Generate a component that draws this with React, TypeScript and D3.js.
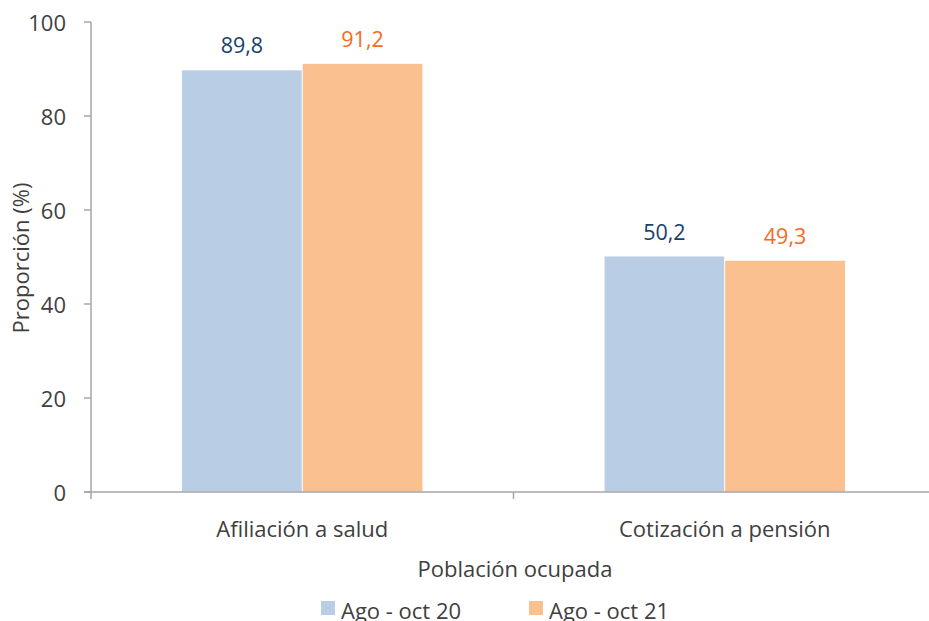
import React from "react";
import * as d3 from "d3";

const categories = ["Afiliación a salud", "Cotización a pensión"];
const seriesNames = ["Ago - oct 20", "Ago - oct 21"];
const values2020 = [89.8, 50.2];
const values2021 = [91.2, 49.3];
const yTicks = [0, 20, 40, 60, 80, 100];
const fills = ["#B9CDE5", "#FAC090"];
const labelColors = ["#17406D", "#F36C1E"];

const W = 929;
const H = 621;
const left = 91;
const top = 22;
const bottom = 492;
const right = 936;
const font = "'Open Sans', 'Noto Sans', sans-serif";
const textColor = "#404040";
const axisColor = "#A6A6A6";
const fs = 22;

export default function App() {
  const x = d3.scaleBand<string>().domain(categories).range([left, right]).paddingInner(0).paddingOuter(0);
  const y = d3.scaleLinear().domain([0, 100]).range([bottom, top]);
  const groupW = x.bandwidth() * 0.571;
  const x1 = d3.scaleBand<number>().domain([0, 1]).range([0, groupW]).padding(0);
  const series = [values2020, values2021];

  return (
    <svg width={W} height={H} style={{ position: "fixed", left: 0, top: 0, background: "#fff" }} fontFamily={font}>
      {categories.map((c, i) => {
        const gx = x(c)! + (x.bandwidth() - groupW) / 2;
        return (
          <g key={c}>
            {series.map((s, j) => (
              <g key={j}>
                <rect
                  x={gx + x1(j)!}
                  y={y(s[i])}
                  width={x1.bandwidth()}
                  height={y(0) - y(s[i])}
                  fill={fills[j]}
                  stroke="#fff"
                  strokeWidth={0.8}
                />
                <text
                  x={gx + x1(j)! + x1.bandwidth() / 2}
                  y={y(s[i]) - 25}
                  textAnchor="middle"
                  dominantBaseline="central"
                  fontSize={21.5}
                  fill={labelColors[j]}
                >
                  {s[i].toFixed(1).replace(".", ",")}
                </text>
              </g>
            ))}
          </g>
        );
      })}
      <line x1={left} x2={left} y1={top} y2={bottom} stroke={axisColor} strokeWidth={1.5} />
      {yTicks.map((t) => (
        <g key={t}>
          <line x1={left - 7} x2={left} y1={y(t)} y2={y(t)} stroke={axisColor} strokeWidth={1.5} />
          <text x={66} y={y(t)} textAnchor="end" dominantBaseline="central" fontSize={fs} fill={textColor}>
            {t}
          </text>
        </g>
      ))}
      <line x1={left - 7} x2={W} y1={bottom} y2={bottom} stroke={axisColor} strokeWidth={1.5} />
      {[...categories.map((c) => x(c)!), right].map((p, i) => (
        <line key={i} x1={p} x2={p} y1={bottom} y2={bottom + 7} stroke={axisColor} strokeWidth={1.5} />
      ))}
      {categories.map((c) => (
        <text
          key={c}
          x={x(c)! + x.bandwidth() / 2}
          y={528}
          textAnchor="middle"
          dominantBaseline="central"
          fontSize={fs}
          fill={textColor}
        >
          {c}
        </text>
      ))}
      <text x={515} y={568} textAnchor="middle" dominantBaseline="central" fontSize={fs} fill={textColor}>
        Población ocupada
      </text>
      <text
        transform={`translate(20,258) rotate(-90)`}
        textAnchor="middle"
        dominantBaseline="central"
        fontSize={fs}
        fill={textColor}
      >
        Proporción (%)
      </text>
      {seriesNames.map((n, j) => (
        <g key={n} transform={`translate(${321 + j * 208},601)`}>
          <rect x={0} y={0} width={14} height={14} fill={fills[j]} />
          <text x={20} y={9} dominantBaseline="central" fontSize={fs} fill={textColor}>
            {n}
          </text>
        </g>
      ))}
    </svg>
  );
}
